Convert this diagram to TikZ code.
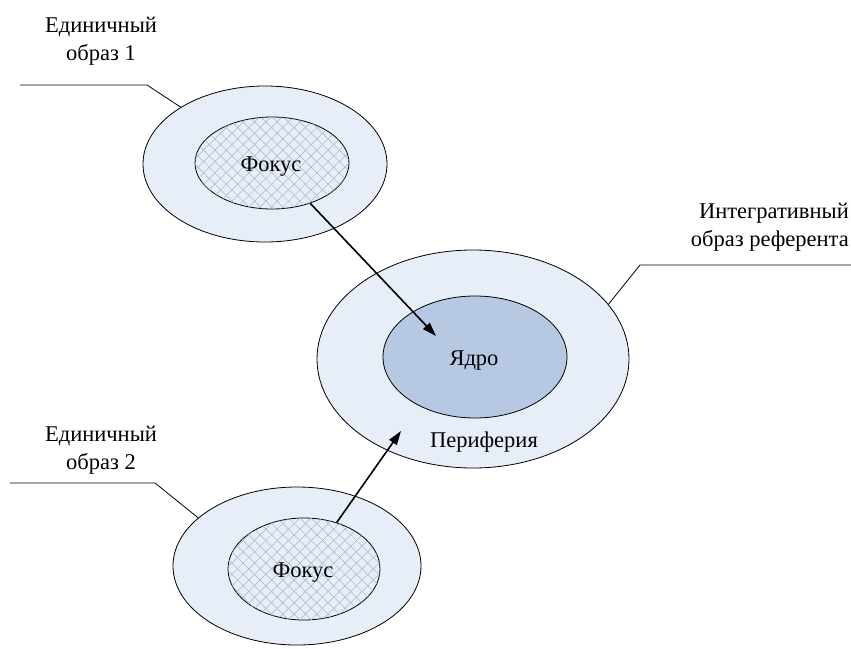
\documentclass[tikz,border=0pt]{standalone}
\usepackage{fontspec}
\setmainfont{Liberation Serif}
\newfontfamily\tmsfont{Liberation Serif}
\usetikzlibrary{shapes.geometric,patterns.meta,arrows.meta}
\definecolor{outerfill}{HTML}{E8EEF7}
\definecolor{corefill}{HTML}{B6C8E2}
\definecolor{hatchcol}{HTML}{A5B5CC}
\tikzset{
  outerell/.style={ellipse, draw=black, line width=0.8pt, fill=outerfill, inner sep=0pt},
  focusell/.style={ellipse, draw=black, line width=0.8pt, fill=outerfill, inner sep=0pt,
    postaction={pattern={Lines[angle=45,distance=8pt,line width=0.5pt]}, pattern color=hatchcol},
    postaction={pattern={Lines[angle=-45,distance=8pt,line width=0.5pt]}, pattern color=hatchcol}},
  coreell/.style={ellipse, draw=black, line width=0.8pt, fill=corefill, inner sep=0pt},
  lbl/.style={font=\tmsfont\fontsize{22.5}{28}\selectfont, align=center, inner sep=0pt},
  leader/.style={draw=black, line width=0.8pt},
  arrowline/.style={draw=black, line width=1.6pt, -{Triangle[length=14pt,width=9pt]}}
}
\begin{document}
\begin{tikzpicture}[x=1pt,y=-1pt]
\useasboundingbox (0,0) rectangle (851,648);
% top single image
\node[outerell, minimum width=244pt, minimum height=156pt] (out1) at (265,164) {};
\node[focusell, minimum width=154pt, minimum height=92pt] (foc1) at (272,163) {};
\node[lbl] (foc1t) at (271,167) {Фокус};
% integrative image
\node[outerell, minimum width=312pt, minimum height=218pt] (big) at (473,359) {};
\node[coreell, minimum width=184pt, minimum height=122pt] (core) at (475,357) {};
\node[lbl] (coret) at (474,361) {Ядро};
\node[lbl] (peri) at (484,442) {Периферия};
% bottom single image
\node[outerell, minimum width=248pt, minimum height=158pt] (out2) at (297,566) {};
\node[focusell, minimum width=152pt, minimum height=102pt] (foc2) at (304,569) {};
\node[lbl] (foc2t) at (303,573) {Фокус};
% labels
\node[lbl] (lab1) at (101,41) {Единичный\\образ 1};
\node[lbl] (lab2) at (101,450) {Единичный\\образ 2};
\node[lbl, anchor=north east, align=right] (lab3) at (849,203) {Интегративный\\образ референта};
% leader lines
\coordinate (l1) at (20,85);
\coordinate (l1b) at (147,85);
\draw[leader] (l1) -- (l1b) -- (out1.146);
\coordinate (l2) at (10,483);
\coordinate (l2b) at (155,483);
\draw[leader] (l2) -- (l2b) -- (out2.154);
\coordinate (l3) at (851,265);
\coordinate (l3b) at (640,265);
\draw[leader] (l3) -- (l3b) -- (big.22);
% arrows
\coordinate (t1) at (436,336);
\draw[arrowline] (foc1) -- (t1);
\coordinate (t2) at (401,431);
\draw[arrowline] (foc2) -- (t2);
\end{tikzpicture}
\end{document}
